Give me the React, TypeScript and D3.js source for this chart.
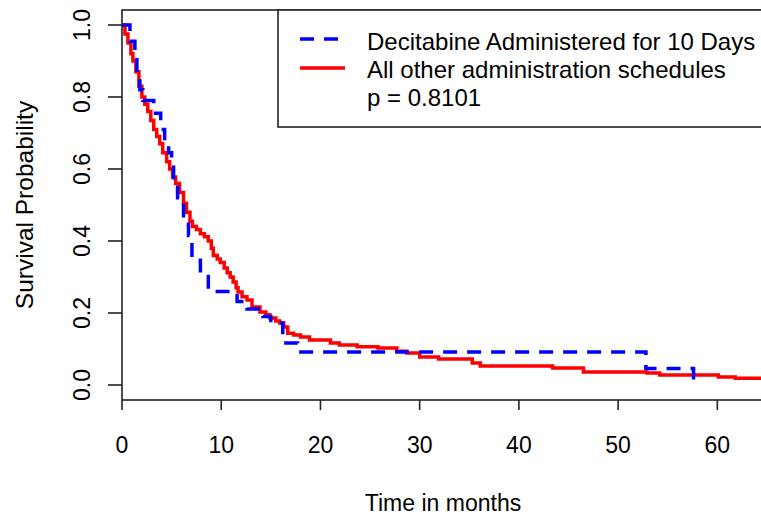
import React from "react";
import * as d3 from "d3";

const W = 761;
const H = 521;

// Decitabine Administered for 10 Days (time in months, survival after step)
const blueTimes = [0, 0.8, 1.3, 1.5, 1.8, 2.1, 3.2, 3.9, 4.3, 4.7, 5.0, 5.2, 5.6, 6.2, 6.7, 7.05, 7.9, 8.7, 11.6, 12.6, 14.2, 15.0, 16.2, 17.7, 52.8, 57.6];
const blueSurv = [1.0, 0.955, 0.91, 0.865, 0.82, 0.79, 0.755, 0.71, 0.675, 0.645, 0.61, 0.565, 0.52, 0.465, 0.415, 0.355, 0.31, 0.26, 0.232, 0.211, 0.19, 0.172, 0.117, 0.092, 0.046, 0.0];

// All other administration schedules
const redTimes = [0, 0.3, 0.6, 0.9, 1.1, 1.4, 1.7, 2.0, 2.3, 2.6, 2.9, 3.2, 3.5, 3.8, 4.1, 4.5, 4.8, 5.1, 5.4, 5.8, 6.2, 6.5, 6.85, 7.1, 7.5, 7.9, 8.3, 8.7, 9.0, 9.2, 9.6, 9.9, 10.3, 10.6, 10.9, 11.2, 11.5, 11.7, 12.1, 12.6, 13.1, 13.9, 14.5, 14.9, 15.5, 15.9, 16.3, 16.7, 17.3, 18.0, 18.9, 21.0, 21.9, 23.7, 25.8, 27.7, 28.7, 30.0, 31.9, 35.3, 36.1, 43.4, 46.5, 52.9, 54.2, 60.1, 61.8, 65.0];
const redSurv = [1.0, 0.975, 0.95, 0.92, 0.9, 0.87, 0.83, 0.8, 0.78, 0.76, 0.735, 0.71, 0.69, 0.67, 0.645, 0.62, 0.6, 0.578, 0.56, 0.535, 0.505, 0.48, 0.455, 0.44, 0.432, 0.42, 0.412, 0.4, 0.38, 0.36, 0.35, 0.34, 0.325, 0.312, 0.3, 0.286, 0.27, 0.258, 0.245, 0.236, 0.217, 0.203, 0.195, 0.186, 0.178, 0.172, 0.161, 0.144, 0.139, 0.133, 0.125, 0.117, 0.111, 0.106, 0.103, 0.094, 0.089, 0.078, 0.072, 0.061, 0.053, 0.047, 0.036, 0.033, 0.028, 0.022, 0.019, 0.019];

const xTicks = [0, 10, 20, 30, 40, 50, 60];
const yTicks = [0, 0.2, 0.4, 0.6, 0.8, 1.0];
const legendLabels = ["Decitabine Administered for 10 Days", "All other administration schedules", "p = 0.8101"];

const FONT = "'Liberation Sans', Arial, sans-serif";

export default function App() {
  const left = 122, right = 764, top = 10, bottom = 400;
  const x = d3.scaleLinear().domain([0, 64.7]).range([left, right]);
  const y = d3.scaleLinear().domain([0, 1]).range([385, 25]);

  const line = d3
    .line<[number, number]>()
    .x((d) => x(d[0]))
    .y((d) => y(d[1]))
    .curve(d3.curveStepAfter);

  const blueData: [number, number][] = blueTimes.map((t, i) => [t, blueSurv[i]]);
  const redData: [number, number][] = redTimes.map((t, i) => [t, redSurv[i]]);

  const fs = 23;

  return (
    <svg width={W} height={H} style={{ position: "absolute", left: 0, top: 0, background: "#fff" }}>
      <rect x={0} y={0} width={W} height={H} fill="#fff" />
      {/* curves */}
      <path d={line(redData) || ""} fill="none" stroke="#FF0000" strokeWidth={3.5} />
      <path d={line(blueData) || ""} fill="none" stroke="#0000FF" strokeWidth={3.5} strokeDasharray="14,10" />

      {/* plot box */}
      <rect x={left} y={top} width={right - left} height={bottom - top} fill="none" stroke="#222" strokeWidth={1.6} />

      {/* x axis */}
      {xTicks.map((t) => (
        <g key={"x" + t}>
          <line x1={x(t)} x2={x(t)} y1={bottom} y2={bottom + 10} stroke="#222" strokeWidth={1.6} />
          <text x={x(t)} y={453} textAnchor="middle" fontFamily={FONT} fontSize={fs} fill="#000">
            {t}
          </text>
        </g>
      ))}
      {/* y axis */}
      {yTicks.map((v) => (
        <g key={"y" + v}>
          <line x1={left - 14} x2={left} y1={y(v)} y2={y(v)} stroke="#222" strokeWidth={1.6} />
          <text
            transform={`translate(90,${y(v)}) rotate(-90)`}
            textAnchor="middle"
            fontFamily={FONT}
            fontSize={fs}
            fill="#000"
          >
            {v.toFixed(1)}
          </text>
        </g>
      ))}

      {/* axis titles */}
      <text x={(left + right) / 2} y={511} textAnchor="middle" fontFamily={FONT} fontSize={fs} fill="#000">
        Time in months
      </text>
      <text
        transform={`translate(33,${(top + bottom) / 2}) rotate(-90)`}
        textAnchor="middle"
        fontFamily={FONT}
        fontSize={24.5}
        fill="#000"
      >
        Survival Probability
      </text>

      {/* legend */}
      <rect x={278} y={10} width={486} height={117} fill="#fff" stroke="#222" strokeWidth={1.6} />
      <line x1={300} x2={345} y1={39} y2={39} stroke="#0000FF" strokeWidth={3.5} strokeDasharray="14,10" />
      <line x1={300} x2={345} y1={68} y2={68} stroke="#FF0000" strokeWidth={3.5} />
      {legendLabels.map((s, i) => (
        <text key={s} x={367} y={50 + i * 28} fontFamily={FONT} fontSize={24} fill="#000">
          {s}
        </text>
      ))}
    </svg>
  );
}
